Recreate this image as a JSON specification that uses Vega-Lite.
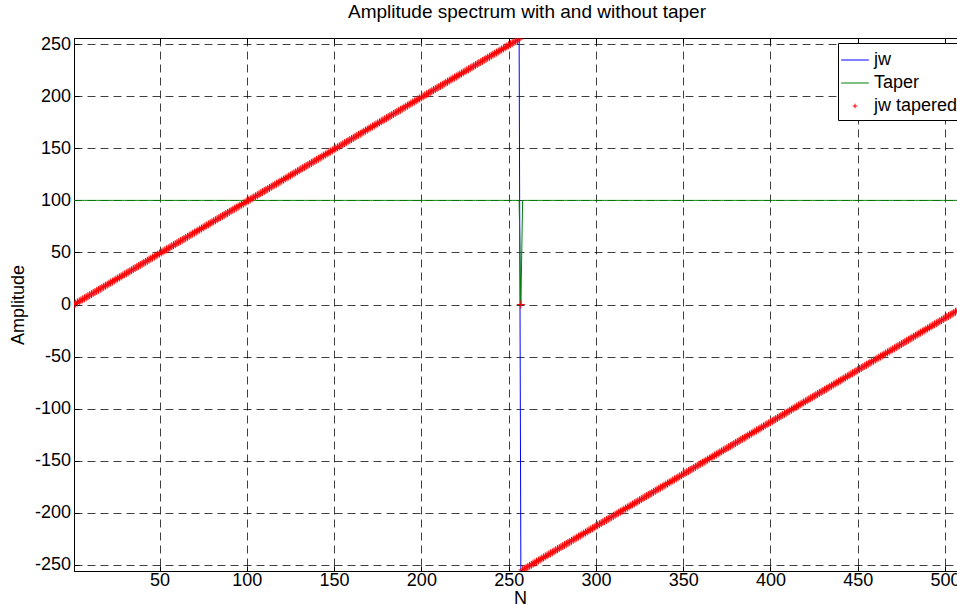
{"$schema":"https://vega.github.io/schema/vega-lite/v6.json","autosize":{"type":"none"},"padding":{"left":74,"top":38,"right":0,"bottom":33},"width":892,"height":533,"background":"white","title":{"text":"Amplitude spectrum with and without taper","fontSize":19,"fontWeight":"normal","font":"Liberation Sans","offset":-2,"dx":7,"baseline":"alphabetic","color":"#000"},"config":{"view":{"stroke":"#000","strokeWidth":1},"axis":{"domainColor":"#000","tickColor":"#000","labelColor":"#000","titleColor":"#000","labelFont":"Liberation Sans","titleFont":"Liberation Sans","labelFontSize":18,"titleFontSize":18,"titleFontWeight":"normal","tickSize":-5,"gridColor":"#000","gridDash":[8,5],"gridOpacity":0.75,"labelFlush":false,"labelOverlap":false,"labelExpr":"datum.value + ''"},"legend":{"symbolSize":529,"symbolStrokeWidth":1,"labelFontSize":18,"labelFont":"Liberation Sans","labelColor":"#000","strokeColor":"#000","fillColor":"#fff","padding":5,"rowPadding":2,"labelOffset":7}},"data":{"values":[
{"n":1,"j":0,"t":100,"r":0},{"n":2,"j":1,"t":100,"r":1},{"n":3,"j":2,"t":100,"r":2},{"n":4,"j":3,"t":100,"r":3},{"n":5,"j":4,"t":100,"r":4},{"n":6,"j":5,"t":100,"r":5},{"n":7,"j":6,"t":100,"r":6},{"n":8,"j":7,"t":100,"r":7},{"n":9,"j":8,"t":100,"r":8},{"n":10,"j":9,"t":100,"r":9},
{"n":11,"j":10,"t":100,"r":10},{"n":12,"j":11,"t":100,"r":11},{"n":13,"j":12,"t":100,"r":12},{"n":14,"j":13,"t":100,"r":13},{"n":15,"j":14,"t":100,"r":14},{"n":16,"j":15,"t":100,"r":15},{"n":17,"j":16,"t":100,"r":16},{"n":18,"j":17,"t":100,"r":17},{"n":19,"j":18,"t":100,"r":18},{"n":20,"j":19,"t":100,"r":19},
{"n":21,"j":20,"t":100,"r":20},{"n":22,"j":21,"t":100,"r":21},{"n":23,"j":22,"t":100,"r":22},{"n":24,"j":23,"t":100,"r":23},{"n":25,"j":24,"t":100,"r":24},{"n":26,"j":25,"t":100,"r":25},{"n":27,"j":26,"t":100,"r":26},{"n":28,"j":27,"t":100,"r":27},{"n":29,"j":28,"t":100,"r":28},{"n":30,"j":29,"t":100,"r":29},
{"n":31,"j":30,"t":100,"r":30},{"n":32,"j":31,"t":100,"r":31},{"n":33,"j":32,"t":100,"r":32},{"n":34,"j":33,"t":100,"r":33},{"n":35,"j":34,"t":100,"r":34},{"n":36,"j":35,"t":100,"r":35},{"n":37,"j":36,"t":100,"r":36},{"n":38,"j":37,"t":100,"r":37},{"n":39,"j":38,"t":100,"r":38},{"n":40,"j":39,"t":100,"r":39},
{"n":41,"j":40,"t":100,"r":40},{"n":42,"j":41,"t":100,"r":41},{"n":43,"j":42,"t":100,"r":42},{"n":44,"j":43,"t":100,"r":43},{"n":45,"j":44,"t":100,"r":44},{"n":46,"j":45,"t":100,"r":45},{"n":47,"j":46,"t":100,"r":46},{"n":48,"j":47,"t":100,"r":47},{"n":49,"j":48,"t":100,"r":48},{"n":50,"j":49,"t":100,"r":49},
{"n":51,"j":50,"t":100,"r":50},{"n":52,"j":51,"t":100,"r":51},{"n":53,"j":52,"t":100,"r":52},{"n":54,"j":53,"t":100,"r":53},{"n":55,"j":54,"t":100,"r":54},{"n":56,"j":55,"t":100,"r":55},{"n":57,"j":56,"t":100,"r":56},{"n":58,"j":57,"t":100,"r":57},{"n":59,"j":58,"t":100,"r":58},{"n":60,"j":59,"t":100,"r":59},
{"n":61,"j":60,"t":100,"r":60},{"n":62,"j":61,"t":100,"r":61},{"n":63,"j":62,"t":100,"r":62},{"n":64,"j":63,"t":100,"r":63},{"n":65,"j":64,"t":100,"r":64},{"n":66,"j":65,"t":100,"r":65},{"n":67,"j":66,"t":100,"r":66},{"n":68,"j":67,"t":100,"r":67},{"n":69,"j":68,"t":100,"r":68},{"n":70,"j":69,"t":100,"r":69},
{"n":71,"j":70,"t":100,"r":70},{"n":72,"j":71,"t":100,"r":71},{"n":73,"j":72,"t":100,"r":72},{"n":74,"j":73,"t":100,"r":73},{"n":75,"j":74,"t":100,"r":74},{"n":76,"j":75,"t":100,"r":75},{"n":77,"j":76,"t":100,"r":76},{"n":78,"j":77,"t":100,"r":77},{"n":79,"j":78,"t":100,"r":78},{"n":80,"j":79,"t":100,"r":79},
{"n":81,"j":80,"t":100,"r":80},{"n":82,"j":81,"t":100,"r":81},{"n":83,"j":82,"t":100,"r":82},{"n":84,"j":83,"t":100,"r":83},{"n":85,"j":84,"t":100,"r":84},{"n":86,"j":85,"t":100,"r":85},{"n":87,"j":86,"t":100,"r":86},{"n":88,"j":87,"t":100,"r":87},{"n":89,"j":88,"t":100,"r":88},{"n":90,"j":89,"t":100,"r":89},
{"n":91,"j":90,"t":100,"r":90},{"n":92,"j":91,"t":100,"r":91},{"n":93,"j":92,"t":100,"r":92},{"n":94,"j":93,"t":100,"r":93},{"n":95,"j":94,"t":100,"r":94},{"n":96,"j":95,"t":100,"r":95},{"n":97,"j":96,"t":100,"r":96},{"n":98,"j":97,"t":100,"r":97},{"n":99,"j":98,"t":100,"r":98},{"n":100,"j":99,"t":100,"r":99},
{"n":101,"j":100,"t":100,"r":100},{"n":102,"j":101,"t":100,"r":101},{"n":103,"j":102,"t":100,"r":102},{"n":104,"j":103,"t":100,"r":103},{"n":105,"j":104,"t":100,"r":104},{"n":106,"j":105,"t":100,"r":105},{"n":107,"j":106,"t":100,"r":106},{"n":108,"j":107,"t":100,"r":107},{"n":109,"j":108,"t":100,"r":108},{"n":110,"j":109,"t":100,"r":109},
{"n":111,"j":110,"t":100,"r":110},{"n":112,"j":111,"t":100,"r":111},{"n":113,"j":112,"t":100,"r":112},{"n":114,"j":113,"t":100,"r":113},{"n":115,"j":114,"t":100,"r":114},{"n":116,"j":115,"t":100,"r":115},{"n":117,"j":116,"t":100,"r":116},{"n":118,"j":117,"t":100,"r":117},{"n":119,"j":118,"t":100,"r":118},{"n":120,"j":119,"t":100,"r":119},
{"n":121,"j":120,"t":100,"r":120},{"n":122,"j":121,"t":100,"r":121},{"n":123,"j":122,"t":100,"r":122},{"n":124,"j":123,"t":100,"r":123},{"n":125,"j":124,"t":100,"r":124},{"n":126,"j":125,"t":100,"r":125},{"n":127,"j":126,"t":100,"r":126},{"n":128,"j":127,"t":100,"r":127},{"n":129,"j":128,"t":100,"r":128},{"n":130,"j":129,"t":100,"r":129},
{"n":131,"j":130,"t":100,"r":130},{"n":132,"j":131,"t":100,"r":131},{"n":133,"j":132,"t":100,"r":132},{"n":134,"j":133,"t":100,"r":133},{"n":135,"j":134,"t":100,"r":134},{"n":136,"j":135,"t":100,"r":135},{"n":137,"j":136,"t":100,"r":136},{"n":138,"j":137,"t":100,"r":137},{"n":139,"j":138,"t":100,"r":138},{"n":140,"j":139,"t":100,"r":139},
{"n":141,"j":140,"t":100,"r":140},{"n":142,"j":141,"t":100,"r":141},{"n":143,"j":142,"t":100,"r":142},{"n":144,"j":143,"t":100,"r":143},{"n":145,"j":144,"t":100,"r":144},{"n":146,"j":145,"t":100,"r":145},{"n":147,"j":146,"t":100,"r":146},{"n":148,"j":147,"t":100,"r":147},{"n":149,"j":148,"t":100,"r":148},{"n":150,"j":149,"t":100,"r":149},
{"n":151,"j":150,"t":100,"r":150},{"n":152,"j":151,"t":100,"r":151},{"n":153,"j":152,"t":100,"r":152},{"n":154,"j":153,"t":100,"r":153},{"n":155,"j":154,"t":100,"r":154},{"n":156,"j":155,"t":100,"r":155},{"n":157,"j":156,"t":100,"r":156},{"n":158,"j":157,"t":100,"r":157},{"n":159,"j":158,"t":100,"r":158},{"n":160,"j":159,"t":100,"r":159},
{"n":161,"j":160,"t":100,"r":160},{"n":162,"j":161,"t":100,"r":161},{"n":163,"j":162,"t":100,"r":162},{"n":164,"j":163,"t":100,"r":163},{"n":165,"j":164,"t":100,"r":164},{"n":166,"j":165,"t":100,"r":165},{"n":167,"j":166,"t":100,"r":166},{"n":168,"j":167,"t":100,"r":167},{"n":169,"j":168,"t":100,"r":168},{"n":170,"j":169,"t":100,"r":169},
{"n":171,"j":170,"t":100,"r":170},{"n":172,"j":171,"t":100,"r":171},{"n":173,"j":172,"t":100,"r":172},{"n":174,"j":173,"t":100,"r":173},{"n":175,"j":174,"t":100,"r":174},{"n":176,"j":175,"t":100,"r":175},{"n":177,"j":176,"t":100,"r":176},{"n":178,"j":177,"t":100,"r":177},{"n":179,"j":178,"t":100,"r":178},{"n":180,"j":179,"t":100,"r":179},
{"n":181,"j":180,"t":100,"r":180},{"n":182,"j":181,"t":100,"r":181},{"n":183,"j":182,"t":100,"r":182},{"n":184,"j":183,"t":100,"r":183},{"n":185,"j":184,"t":100,"r":184},{"n":186,"j":185,"t":100,"r":185},{"n":187,"j":186,"t":100,"r":186},{"n":188,"j":187,"t":100,"r":187},{"n":189,"j":188,"t":100,"r":188},{"n":190,"j":189,"t":100,"r":189},
{"n":191,"j":190,"t":100,"r":190},{"n":192,"j":191,"t":100,"r":191},{"n":193,"j":192,"t":100,"r":192},{"n":194,"j":193,"t":100,"r":193},{"n":195,"j":194,"t":100,"r":194},{"n":196,"j":195,"t":100,"r":195},{"n":197,"j":196,"t":100,"r":196},{"n":198,"j":197,"t":100,"r":197},{"n":199,"j":198,"t":100,"r":198},{"n":200,"j":199,"t":100,"r":199},
{"n":201,"j":200,"t":100,"r":200},{"n":202,"j":201,"t":100,"r":201},{"n":203,"j":202,"t":100,"r":202},{"n":204,"j":203,"t":100,"r":203},{"n":205,"j":204,"t":100,"r":204},{"n":206,"j":205,"t":100,"r":205},{"n":207,"j":206,"t":100,"r":206},{"n":208,"j":207,"t":100,"r":207},{"n":209,"j":208,"t":100,"r":208},{"n":210,"j":209,"t":100,"r":209},
{"n":211,"j":210,"t":100,"r":210},{"n":212,"j":211,"t":100,"r":211},{"n":213,"j":212,"t":100,"r":212},{"n":214,"j":213,"t":100,"r":213},{"n":215,"j":214,"t":100,"r":214},{"n":216,"j":215,"t":100,"r":215},{"n":217,"j":216,"t":100,"r":216},{"n":218,"j":217,"t":100,"r":217},{"n":219,"j":218,"t":100,"r":218},{"n":220,"j":219,"t":100,"r":219},
{"n":221,"j":220,"t":100,"r":220},{"n":222,"j":221,"t":100,"r":221},{"n":223,"j":222,"t":100,"r":222},{"n":224,"j":223,"t":100,"r":223},{"n":225,"j":224,"t":100,"r":224},{"n":226,"j":225,"t":100,"r":225},{"n":227,"j":226,"t":100,"r":226},{"n":228,"j":227,"t":100,"r":227},{"n":229,"j":228,"t":100,"r":228},{"n":230,"j":229,"t":100,"r":229},
{"n":231,"j":230,"t":100,"r":230},{"n":232,"j":231,"t":100,"r":231},{"n":233,"j":232,"t":100,"r":232},{"n":234,"j":233,"t":100,"r":233},{"n":235,"j":234,"t":100,"r":234},{"n":236,"j":235,"t":100,"r":235},{"n":237,"j":236,"t":100,"r":236},{"n":238,"j":237,"t":100,"r":237},{"n":239,"j":238,"t":100,"r":238},{"n":240,"j":239,"t":100,"r":239},
{"n":241,"j":240,"t":100,"r":240},{"n":242,"j":241,"t":100,"r":241},{"n":243,"j":242,"t":100,"r":242},{"n":244,"j":243,"t":100,"r":243},{"n":245,"j":244,"t":100,"r":244},{"n":246,"j":245,"t":100,"r":245},{"n":247,"j":246,"t":100,"r":246},{"n":248,"j":247,"t":100,"r":247},{"n":249,"j":248,"t":100,"r":248},{"n":250,"j":249,"t":100,"r":249},
{"n":251,"j":250,"t":100,"r":250},{"n":252,"j":251,"t":100,"r":251},{"n":253,"j":252,"t":100,"r":252},{"n":254,"j":253,"t":100,"r":253},{"n":255,"j":254,"t":100,"r":254},{"n":256,"j":255,"t":100,"r":255},{"n":257,"j":-256,"t":0,"r":0},{"n":258,"j":-255,"t":100,"r":-255},{"n":259,"j":-254,"t":100,"r":-254},{"n":260,"j":-253,"t":100,"r":-253},
{"n":261,"j":-252,"t":100,"r":-252},{"n":262,"j":-251,"t":100,"r":-251},{"n":263,"j":-250,"t":100,"r":-250},{"n":264,"j":-249,"t":100,"r":-249},{"n":265,"j":-248,"t":100,"r":-248},{"n":266,"j":-247,"t":100,"r":-247},{"n":267,"j":-246,"t":100,"r":-246},{"n":268,"j":-245,"t":100,"r":-245},{"n":269,"j":-244,"t":100,"r":-244},{"n":270,"j":-243,"t":100,"r":-243},
{"n":271,"j":-242,"t":100,"r":-242},{"n":272,"j":-241,"t":100,"r":-241},{"n":273,"j":-240,"t":100,"r":-240},{"n":274,"j":-239,"t":100,"r":-239},{"n":275,"j":-238,"t":100,"r":-238},{"n":276,"j":-237,"t":100,"r":-237},{"n":277,"j":-236,"t":100,"r":-236},{"n":278,"j":-235,"t":100,"r":-235},{"n":279,"j":-234,"t":100,"r":-234},{"n":280,"j":-233,"t":100,"r":-233},
{"n":281,"j":-232,"t":100,"r":-232},{"n":282,"j":-231,"t":100,"r":-231},{"n":283,"j":-230,"t":100,"r":-230},{"n":284,"j":-229,"t":100,"r":-229},{"n":285,"j":-228,"t":100,"r":-228},{"n":286,"j":-227,"t":100,"r":-227},{"n":287,"j":-226,"t":100,"r":-226},{"n":288,"j":-225,"t":100,"r":-225},{"n":289,"j":-224,"t":100,"r":-224},{"n":290,"j":-223,"t":100,"r":-223},
{"n":291,"j":-222,"t":100,"r":-222},{"n":292,"j":-221,"t":100,"r":-221},{"n":293,"j":-220,"t":100,"r":-220},{"n":294,"j":-219,"t":100,"r":-219},{"n":295,"j":-218,"t":100,"r":-218},{"n":296,"j":-217,"t":100,"r":-217},{"n":297,"j":-216,"t":100,"r":-216},{"n":298,"j":-215,"t":100,"r":-215},{"n":299,"j":-214,"t":100,"r":-214},{"n":300,"j":-213,"t":100,"r":-213},
{"n":301,"j":-212,"t":100,"r":-212},{"n":302,"j":-211,"t":100,"r":-211},{"n":303,"j":-210,"t":100,"r":-210},{"n":304,"j":-209,"t":100,"r":-209},{"n":305,"j":-208,"t":100,"r":-208},{"n":306,"j":-207,"t":100,"r":-207},{"n":307,"j":-206,"t":100,"r":-206},{"n":308,"j":-205,"t":100,"r":-205},{"n":309,"j":-204,"t":100,"r":-204},{"n":310,"j":-203,"t":100,"r":-203},
{"n":311,"j":-202,"t":100,"r":-202},{"n":312,"j":-201,"t":100,"r":-201},{"n":313,"j":-200,"t":100,"r":-200},{"n":314,"j":-199,"t":100,"r":-199},{"n":315,"j":-198,"t":100,"r":-198},{"n":316,"j":-197,"t":100,"r":-197},{"n":317,"j":-196,"t":100,"r":-196},{"n":318,"j":-195,"t":100,"r":-195},{"n":319,"j":-194,"t":100,"r":-194},{"n":320,"j":-193,"t":100,"r":-193},
{"n":321,"j":-192,"t":100,"r":-192},{"n":322,"j":-191,"t":100,"r":-191},{"n":323,"j":-190,"t":100,"r":-190},{"n":324,"j":-189,"t":100,"r":-189},{"n":325,"j":-188,"t":100,"r":-188},{"n":326,"j":-187,"t":100,"r":-187},{"n":327,"j":-186,"t":100,"r":-186},{"n":328,"j":-185,"t":100,"r":-185},{"n":329,"j":-184,"t":100,"r":-184},{"n":330,"j":-183,"t":100,"r":-183},
{"n":331,"j":-182,"t":100,"r":-182},{"n":332,"j":-181,"t":100,"r":-181},{"n":333,"j":-180,"t":100,"r":-180},{"n":334,"j":-179,"t":100,"r":-179},{"n":335,"j":-178,"t":100,"r":-178},{"n":336,"j":-177,"t":100,"r":-177},{"n":337,"j":-176,"t":100,"r":-176},{"n":338,"j":-175,"t":100,"r":-175},{"n":339,"j":-174,"t":100,"r":-174},{"n":340,"j":-173,"t":100,"r":-173},
{"n":341,"j":-172,"t":100,"r":-172},{"n":342,"j":-171,"t":100,"r":-171},{"n":343,"j":-170,"t":100,"r":-170},{"n":344,"j":-169,"t":100,"r":-169},{"n":345,"j":-168,"t":100,"r":-168},{"n":346,"j":-167,"t":100,"r":-167},{"n":347,"j":-166,"t":100,"r":-166},{"n":348,"j":-165,"t":100,"r":-165},{"n":349,"j":-164,"t":100,"r":-164},{"n":350,"j":-163,"t":100,"r":-163},
{"n":351,"j":-162,"t":100,"r":-162},{"n":352,"j":-161,"t":100,"r":-161},{"n":353,"j":-160,"t":100,"r":-160},{"n":354,"j":-159,"t":100,"r":-159},{"n":355,"j":-158,"t":100,"r":-158},{"n":356,"j":-157,"t":100,"r":-157},{"n":357,"j":-156,"t":100,"r":-156},{"n":358,"j":-155,"t":100,"r":-155},{"n":359,"j":-154,"t":100,"r":-154},{"n":360,"j":-153,"t":100,"r":-153},
{"n":361,"j":-152,"t":100,"r":-152},{"n":362,"j":-151,"t":100,"r":-151},{"n":363,"j":-150,"t":100,"r":-150},{"n":364,"j":-149,"t":100,"r":-149},{"n":365,"j":-148,"t":100,"r":-148},{"n":366,"j":-147,"t":100,"r":-147},{"n":367,"j":-146,"t":100,"r":-146},{"n":368,"j":-145,"t":100,"r":-145},{"n":369,"j":-144,"t":100,"r":-144},{"n":370,"j":-143,"t":100,"r":-143},
{"n":371,"j":-142,"t":100,"r":-142},{"n":372,"j":-141,"t":100,"r":-141},{"n":373,"j":-140,"t":100,"r":-140},{"n":374,"j":-139,"t":100,"r":-139},{"n":375,"j":-138,"t":100,"r":-138},{"n":376,"j":-137,"t":100,"r":-137},{"n":377,"j":-136,"t":100,"r":-136},{"n":378,"j":-135,"t":100,"r":-135},{"n":379,"j":-134,"t":100,"r":-134},{"n":380,"j":-133,"t":100,"r":-133},
{"n":381,"j":-132,"t":100,"r":-132},{"n":382,"j":-131,"t":100,"r":-131},{"n":383,"j":-130,"t":100,"r":-130},{"n":384,"j":-129,"t":100,"r":-129},{"n":385,"j":-128,"t":100,"r":-128},{"n":386,"j":-127,"t":100,"r":-127},{"n":387,"j":-126,"t":100,"r":-126},{"n":388,"j":-125,"t":100,"r":-125},{"n":389,"j":-124,"t":100,"r":-124},{"n":390,"j":-123,"t":100,"r":-123},
{"n":391,"j":-122,"t":100,"r":-122},{"n":392,"j":-121,"t":100,"r":-121},{"n":393,"j":-120,"t":100,"r":-120},{"n":394,"j":-119,"t":100,"r":-119},{"n":395,"j":-118,"t":100,"r":-118},{"n":396,"j":-117,"t":100,"r":-117},{"n":397,"j":-116,"t":100,"r":-116},{"n":398,"j":-115,"t":100,"r":-115},{"n":399,"j":-114,"t":100,"r":-114},{"n":400,"j":-113,"t":100,"r":-113},
{"n":401,"j":-112,"t":100,"r":-112},{"n":402,"j":-111,"t":100,"r":-111},{"n":403,"j":-110,"t":100,"r":-110},{"n":404,"j":-109,"t":100,"r":-109},{"n":405,"j":-108,"t":100,"r":-108},{"n":406,"j":-107,"t":100,"r":-107},{"n":407,"j":-106,"t":100,"r":-106},{"n":408,"j":-105,"t":100,"r":-105},{"n":409,"j":-104,"t":100,"r":-104},{"n":410,"j":-103,"t":100,"r":-103},
{"n":411,"j":-102,"t":100,"r":-102},{"n":412,"j":-101,"t":100,"r":-101},{"n":413,"j":-100,"t":100,"r":-100},{"n":414,"j":-99,"t":100,"r":-99},{"n":415,"j":-98,"t":100,"r":-98},{"n":416,"j":-97,"t":100,"r":-97},{"n":417,"j":-96,"t":100,"r":-96},{"n":418,"j":-95,"t":100,"r":-95},{"n":419,"j":-94,"t":100,"r":-94},{"n":420,"j":-93,"t":100,"r":-93},
{"n":421,"j":-92,"t":100,"r":-92},{"n":422,"j":-91,"t":100,"r":-91},{"n":423,"j":-90,"t":100,"r":-90},{"n":424,"j":-89,"t":100,"r":-89},{"n":425,"j":-88,"t":100,"r":-88},{"n":426,"j":-87,"t":100,"r":-87},{"n":427,"j":-86,"t":100,"r":-86},{"n":428,"j":-85,"t":100,"r":-85},{"n":429,"j":-84,"t":100,"r":-84},{"n":430,"j":-83,"t":100,"r":-83},
{"n":431,"j":-82,"t":100,"r":-82},{"n":432,"j":-81,"t":100,"r":-81},{"n":433,"j":-80,"t":100,"r":-80},{"n":434,"j":-79,"t":100,"r":-79},{"n":435,"j":-78,"t":100,"r":-78},{"n":436,"j":-77,"t":100,"r":-77},{"n":437,"j":-76,"t":100,"r":-76},{"n":438,"j":-75,"t":100,"r":-75},{"n":439,"j":-74,"t":100,"r":-74},{"n":440,"j":-73,"t":100,"r":-73},
{"n":441,"j":-72,"t":100,"r":-72},{"n":442,"j":-71,"t":100,"r":-71},{"n":443,"j":-70,"t":100,"r":-70},{"n":444,"j":-69,"t":100,"r":-69},{"n":445,"j":-68,"t":100,"r":-68},{"n":446,"j":-67,"t":100,"r":-67},{"n":447,"j":-66,"t":100,"r":-66},{"n":448,"j":-65,"t":100,"r":-65},{"n":449,"j":-64,"t":100,"r":-64},{"n":450,"j":-63,"t":100,"r":-63},
{"n":451,"j":-62,"t":100,"r":-62},{"n":452,"j":-61,"t":100,"r":-61},{"n":453,"j":-60,"t":100,"r":-60},{"n":454,"j":-59,"t":100,"r":-59},{"n":455,"j":-58,"t":100,"r":-58},{"n":456,"j":-57,"t":100,"r":-57},{"n":457,"j":-56,"t":100,"r":-56},{"n":458,"j":-55,"t":100,"r":-55},{"n":459,"j":-54,"t":100,"r":-54},{"n":460,"j":-53,"t":100,"r":-53},
{"n":461,"j":-52,"t":100,"r":-52},{"n":462,"j":-51,"t":100,"r":-51},{"n":463,"j":-50,"t":100,"r":-50},{"n":464,"j":-49,"t":100,"r":-49},{"n":465,"j":-48,"t":100,"r":-48},{"n":466,"j":-47,"t":100,"r":-47},{"n":467,"j":-46,"t":100,"r":-46},{"n":468,"j":-45,"t":100,"r":-45},{"n":469,"j":-44,"t":100,"r":-44},{"n":470,"j":-43,"t":100,"r":-43},
{"n":471,"j":-42,"t":100,"r":-42},{"n":472,"j":-41,"t":100,"r":-41},{"n":473,"j":-40,"t":100,"r":-40},{"n":474,"j":-39,"t":100,"r":-39},{"n":475,"j":-38,"t":100,"r":-38},{"n":476,"j":-37,"t":100,"r":-37},{"n":477,"j":-36,"t":100,"r":-36},{"n":478,"j":-35,"t":100,"r":-35},{"n":479,"j":-34,"t":100,"r":-34},{"n":480,"j":-33,"t":100,"r":-33},
{"n":481,"j":-32,"t":100,"r":-32},{"n":482,"j":-31,"t":100,"r":-31},{"n":483,"j":-30,"t":100,"r":-30},{"n":484,"j":-29,"t":100,"r":-29},{"n":485,"j":-28,"t":100,"r":-28},{"n":486,"j":-27,"t":100,"r":-27},{"n":487,"j":-26,"t":100,"r":-26},{"n":488,"j":-25,"t":100,"r":-25},{"n":489,"j":-24,"t":100,"r":-24},{"n":490,"j":-23,"t":100,"r":-23},
{"n":491,"j":-22,"t":100,"r":-22},{"n":492,"j":-21,"t":100,"r":-21},{"n":493,"j":-20,"t":100,"r":-20},{"n":494,"j":-19,"t":100,"r":-19},{"n":495,"j":-18,"t":100,"r":-18},{"n":496,"j":-17,"t":100,"r":-17},{"n":497,"j":-16,"t":100,"r":-16},{"n":498,"j":-15,"t":100,"r":-15},{"n":499,"j":-14,"t":100,"r":-14},{"n":500,"j":-13,"t":100,"r":-13},
{"n":501,"j":-12,"t":100,"r":-12},{"n":502,"j":-11,"t":100,"r":-11},{"n":503,"j":-10,"t":100,"r":-10},{"n":504,"j":-9,"t":100,"r":-9},{"n":505,"j":-8,"t":100,"r":-8},{"n":506,"j":-7,"t":100,"r":-7},{"n":507,"j":-6,"t":100,"r":-6},{"n":508,"j":-5,"t":100,"r":-5},{"n":509,"j":-4,"t":100,"r":-4},{"n":510,"j":-3,"t":100,"r":-3},
{"n":511,"j":-2,"t":100,"r":-2},{"n":512,"j":-1,"t":100,"r":-1}
]},"layer":[
{"mark":{"type":"line","strokeWidth":1,"clip":true},"encoding":{"x":{"field":"n","type":"quantitative","scale":{"domain":[1,512],"nice":false,"zero":false},"axis":{"orient":"bottom","values":[50,100,150,200,250,300,350,400,450,500],"title":"N","labelPadding":5.4,"titlePadding":0}},"y":{"field":"j","type":"quantitative","scale":{"domain":[-256,256],"nice":false,"zero":false},"axis":{"orient":"left","values":[-250,-200,-150,-100,-50,0,50,100,150,200,250],"title":"Amplitude","labelPadding":8.5,"titlePadding":7}},"color":{"datum":"jw","scale":{"domain":["jw","Taper","jw tapered"],"range":["#0000ff","#008000","#ff0000"]},"legend":{"title":null,"orient":"none","legendX":764,"legendY":5}}}},
{"mark":{"type":"line","strokeWidth":1,"clip":true},"encoding":{"x":{"field":"n","type":"quantitative","axis":null},"y":{"field":"t","type":"quantitative","axis":null},"color":{"datum":"Taper"}}},
{"mark":{"type":"point","filled":false,"size":1600,"strokeWidth":1,"opacity":1,"clip":true},"encoding":{"x":{"field":"n","type":"quantitative","axis":{"orient":"top","values":[50,100,150,200,250,300,350,400,450,500],"labels":false,"grid":false,"title":null}},"y":{"field":"r","type":"quantitative","axis":{"orient":"right","values":[-250,-200,-150,-100,-50,0,50,100,150,200,250],"labels":false,"grid":false,"title":null}},"color":{"datum":"jw tapered"},"shape":{"datum":"jw tapered","scale":{"domain":["jw","Taper","jw tapered"],"range":["M-1.2,0H1.2","M-1.2,0H1.2","M-0.2,0H0.2M0,-0.2V0.2"]},"legend":{"title":null,"orient":"none","legendX":764,"legendY":5}}}}
],"resolve":{"axis":{"x":"independent","y":"independent"}}}
